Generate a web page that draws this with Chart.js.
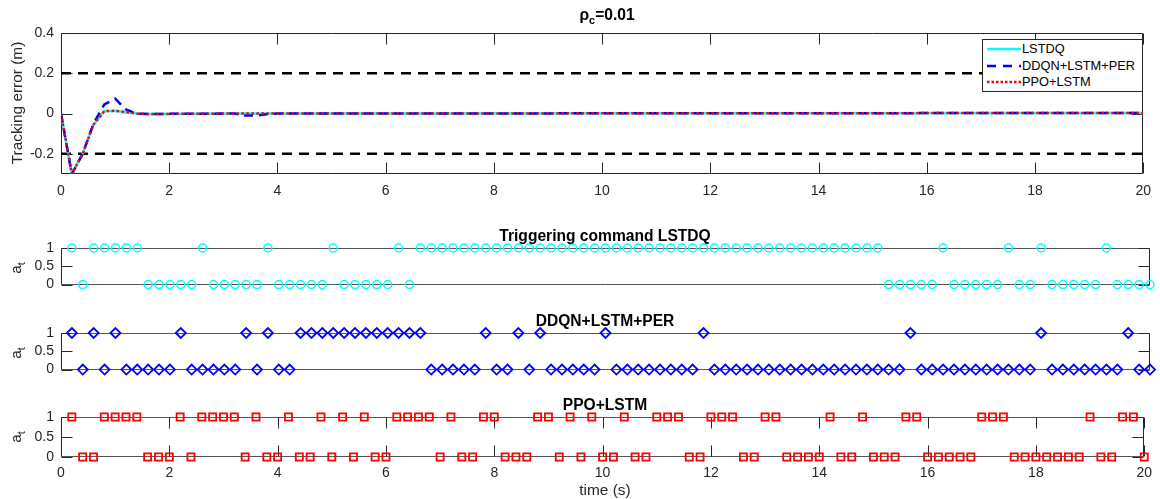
<!DOCTYPE html>
<html>
<head>
<meta charset="utf-8">
<script src="https://cdn.jsdelivr.net/npm/chart.js@4.4.0/dist/chart.umd.min.js"></script>
<style>
    body { margin: 0; background: #fff; font-family: "Liberation Sans", Arial, sans-serif; color: #262626; }
    #wrap { position: relative; width: 1160px; height: 499px; overflow: hidden; }
    canvas { position: absolute; left: 0; }
    .lbl { position: absolute; white-space: nowrap; transform: translate(-50%, -50%); }
    .title { font-weight: bold; font-size: 15.6px; color: #000; }
    .ylab { font-size: 15.4px; transform: translate(-50%, -50%) rotate(-90deg); }
    .ylab sub, .title sub { font-size: 70%; }
    #legend { position: absolute; left: 982px; top: 39px; width: 159px; height: 51px; border: 1px solid #262626;
        background: #fff; font-size: 12.8px; color: #000; }
    #legend .row { position: absolute; left: 0; height: 16px; line-height: 16px; }
    #legend svg { position: absolute; left: 4px; top: 6px; }
    #legend span { position: absolute; left: 39px; top: 0; }
</style>
</head>
<body>
<div id="wrap">
    <canvas id="err-chart" width="1160" height="200" style="top:0"></canvas>
    <canvas id="lstdq-chart" width="1160" height="85" style="top:215px"></canvas>
    <canvas id="ddqn-chart" width="1160" height="85" style="top:300px"></canvas>
    <canvas id="ppo-chart" width="1160" height="115" style="top:384px"></canvas>

    <div class="lbl title" style="left:607px; top:16px">&rho;<sub>c</sub>=0.01</div>
    <div class="lbl ylab" style="left:17px; top:103px">Tracking error (m)</div>
    <div class="lbl title" style="left:605px; top:236px">Triggering command LSTDQ</div>
    <div class="lbl title" style="left:605px; top:321px">DDQN+LSTM+PER</div>
    <div class="lbl title" style="left:605px; top:405px">PPO+LSTM</div>
    <div class="lbl ylab" style="left:17px; top:268px">a<sub>t</sub></div>
    <div class="lbl ylab" style="left:17px; top:353px">a<sub>t</sub></div>
    <div class="lbl ylab" style="left:17px; top:437px">a<sub>t</sub></div>
    <div class="lbl" style="left:605px; top:490px; font-size:15.4px">time (s)</div>

    <div id="legend">
        <div class="row" style="top:1px">
            <svg width="36" height="4"><line x1="0" y1="2" x2="34" y2="2" stroke="#00ffff" stroke-width="2.5"/></svg>
            <span>LSTDQ</span>
        </div>
        <div class="row" style="top:18px">
            <svg width="36" height="4"><line x1="0" y1="2" x2="34" y2="2" stroke="#0000ff" stroke-width="2.5" stroke-dasharray="9,7"/></svg>
            <span>DDQN+LSTM+PER</span>
        </div>
        <div class="row" style="top:34px">
            <svg width="36" height="4"><line x1="0" y1="2" x2="34" y2="2" stroke="#ff0000" stroke-width="2.5" stroke-dasharray="2.5,2"/></svg>
            <span>PPO+LSTM</span>
        </div>
    </div>
</div>

<script>
// tracking error
const errTime = [0, 0.2, 0.4, 0.6, 0.8, 1.0, 1.2, 1.4, 1.6, 3.2, 3.4, 3.6, 3.8, 4.0, 20];
const lstdqErr = [0, -0.3, -0.2, -0.055, 0.012, 0.014, 0.007, 0, -0.002, 0, 0, 0, 0, 0, 0.003];
const ddqnErr = [0, -0.3, -0.2, -0.05, 0.045, 0.074, 0.02, 0, -0.002, 0, -0.01, -0.01, -0.003, 0, 0.003];
const ppoErr = [0, -0.3, -0.2, -0.055, 0.012, 0.014, 0.007, 0, -0.002, 0, 0, 0, 0, 0, 0.003];
const limits = [0.2, -0.2];

// triggering commands, one sample every 0.2 s from 0.2 to 20
const trigTime = Array.from({ length: 100 }, (_, i) => +((i + 1) * 0.2).toFixed(1));
const lstdqTrig = [
    1, 0, 1, 1, 1, 1, 1, 0, 0, 0,
    0, 0, 1, 0, 0, 0, 0, 0, 1, 0,
    0, 0, 0, 0, 1, 0, 0, 0, 0, 0,
    1, 0, 1, 1, 1, 1, 1, 1, 1, 1,
    1, 1, 1, 1, 1, 1, 1, 1, 1, 1,
    1, 1, 1, 1, 1, 1, 1, 1, 1, 1,
    1, 1, 1, 1, 1, 1, 1, 1, 1, 1,
    1, 1, 1, 1, 1, 0, 0, 0, 0, 0,
    1, 0, 0, 0, 0, 0, 1, 0, 0, 1,
    0, 0, 0, 0, 0, 1, 0, 0, 0, 0
];
const ddqnTrig = [
    1, 0, 1, 0, 1, 0, 0, 0, 0, 0,
    1, 0, 0, 0, 0, 0, 1, 0, 1, 0,
    0, 1, 1, 1, 1, 1, 1, 1, 1, 1,
    1, 1, 1, 0, 0, 0, 0, 0, 1, 0,
    0, 1, 0, 1, 0, 0, 0, 0, 0, 1,
    0, 0, 0, 0, 0, 0, 0, 0, 1, 0,
    0, 0, 0, 0, 0, 0, 0, 0, 0, 0,
    0, 0, 0, 0, 0, 0, 0, 1, 0, 0,
    0, 0, 0, 0, 0, 0, 0, 0, 0, 1,
    0, 0, 0, 0, 0, 0, 0, 1, 0, 0
];
const ppoTrig = [
    1, 0, 0, 1, 1, 1, 1, 0, 0, 0,
    1, 0, 1, 1, 1, 1, 0, 1, 0, 0,
    1, 0, 0, 1, 0, 1, 0, 1, 0, 0,
    1, 1, 1, 1, 0, 1, 0, 0, 1, 1,
    0, 0, 0, 1, 1, 0, 1, 0, 1, 0,
    0, 1, 0, 0, 1, 1, 1, 0, 0, 1,
    1, 1, 0, 0, 1, 1, 0, 0, 0, 0,
    1, 0, 0, 1, 0, 0, 0, 1, 1, 0,
    0, 0, 0, 0, 1, 1, 1, 0, 0, 0,
    0, 0, 0, 0, 1, 0, 0, 1, 1, 0
];

const xTicks = [0, 2, 4, 6, 8, 10, 12, 14, 16, 18, 20];
const errTicks = [-0.2, 0, 0.2, 0.4];
const trigTicks = [0, 0.5, 1];

Chart.defaults.font.family = "'Liberation Sans', Arial, sans-serif";
Chart.defaults.font.size = 14;
Chart.defaults.color = '#262626';

// matlab style box with inward ticks
const framePlugin = {
    id: 'frame',
    beforeDatasetsDraw(chart, args, o) {
        const { ctx, chartArea: a, scales } = chart;
        const L = Math.round(a.left) + 0.5, R = Math.round(a.right) - 0.5;
        const T = Math.round(a.top) + 0.5, B = Math.round(a.bottom) - 0.5;
        const len = 11;
        ctx.save();
        ctx.lineWidth = 1;
        ctx.strokeStyle = o.hColor;
        ctx.beginPath();
        ctx.moveTo(L, T); ctx.lineTo(R, T);
        ctx.moveTo(L, B); ctx.lineTo(R, B);
        ctx.stroke();
        ctx.strokeStyle = o.vColor;
        ctx.beginPath();
        ctx.moveTo(L, T); ctx.lineTo(L, B);
        ctx.moveTo(R, T); ctx.lineTo(R, B);
        scales.y.ticks.forEach(t => {
            const y = Math.round(scales.y.getPixelForValue(t.value)) + 0.5;
            ctx.moveTo(L, y); ctx.lineTo(L + len, y);
            ctx.moveTo(R, y); ctx.lineTo(R - len, y);
        });
        if (o.xTicks) {
            scales.x.ticks.forEach(t => {
                const x = Math.round(scales.x.getPixelForValue(t.value)) + 0.5;
                ctx.moveTo(x, B); ctx.lineTo(x, B - len);
                ctx.moveTo(x, T); ctx.lineTo(x, T + len);
            });
        }
        ctx.stroke();
        ctx.restore();
    }
};

function axes(cfg) {
    return {
        x: {
            type: 'linear', min: 0, max: 20,
            grid: { display: false, drawTicks: false }, border: { display: false },
            ticks: { display: cfg.xLabels, padding: cfg.xPad, maxRotation: 0, autoSkip: false, callback: v => String(v) },
            afterBuildTicks: s => { s.ticks = xTicks.map(v => ({ value: v })); },
            afterFit: s => { s.height = cfg.xHeight; }
        },
        y: {
            min: cfg.yMin, max: cfg.yMax,
            grid: { display: false, drawTicks: false }, border: { display: false },
            ticks: { padding: 7, callback: v => String(v) },
            afterBuildTicks: s => { s.ticks = cfg.yTicks.map(v => ({ value: v })); },
            afterFit: s => { s.width = 61; }
        }
    };
}

function baseOptions(cfg, frame) {
    return {
        responsive: false,
        animation: false,
        events: [],
        layout: { padding: { top: 33, left: 0, right: 10, bottom: 0 } },
        plugins: { legend: { display: false }, tooltip: { enabled: false }, frame: frame },
        scales: axes(cfg)
    };
}

const toPoints = (xs, ys) => xs.map((x, i) => ({ x: x, y: ys[i] }));

new Chart(document.getElementById('err-chart'), {
    type: 'line',
    data: {
        datasets: [
            {
                label: 'LSTDQ', data: toPoints(errTime, lstdqErr),
                borderColor: '#00ffff', borderWidth: 2.5, pointRadius: 0, tension: 0, order: 3
            },
            {
                label: 'DDQN+LSTM+PER', data: toPoints(errTime, ddqnErr),
                borderColor: '#0000ff', borderWidth: 2.5, borderDash: [9, 6], pointRadius: 0, tension: 0, order: 2
            },
            {
                label: 'PPO+LSTM', data: toPoints(errTime, ppoErr),
                borderColor: '#ff0000', borderWidth: 2.5, borderDash: [2.5, 2.5], pointRadius: 0, tension: 0, order: 1
            },
            ...limits.map(v => ({
                data: [{ x: 0, y: v }, { x: 20, y: v }],
                borderColor: '#000', borderWidth: 2.5, borderDash: [10, 7], pointRadius: 0, order: 4
            }))
        ]
    },
    options: baseOptions(
        { xLabels: true, xPad: 9, xHeight: 26, yMin: -0.3, yMax: 0.4, yTicks: errTicks },
        { hColor: '#262626', vColor: '#262626', xTicks: true }
    ),
    plugins: [framePlugin]
});

function trigChart(id, values, marker, xLabels) {
    return new Chart(document.getElementById(id), {
        type: 'scatter',
        data: {
            datasets: [{
                data: toPoints(trigTime, values),
                pointStyle: marker.style,
                pointRadius: marker.radius,
                borderColor: marker.color,
                backgroundColor: 'rgba(0,0,0,0)',
                borderWidth: marker.width,
                clip: false
            }]
        },
        options: baseOptions(
            { xLabels: xLabels, xPad: 8, xHeight: xLabels ? 42 : 12, yMin: 0, yMax: 1, yTicks: trigTicks },
            { hColor: '#555', vColor: '#262626', xTicks: xLabels }
        ),
        plugins: [framePlugin]
    });
}

trigChart('lstdq-chart', lstdqTrig, { style: 'circle', radius: 4, color: '#00ffff', width: 1.5 }, false);
trigChart('ddqn-chart', ddqnTrig, { style: 'rectRot', radius: 5, color: '#0000ff', width: 1.8 }, false);
trigChart('ppo-chart', ppoTrig, { style: 'rect', radius: 5, color: '#ff0000', width: 1.8 }, true);
</script>
</body>
</html>
